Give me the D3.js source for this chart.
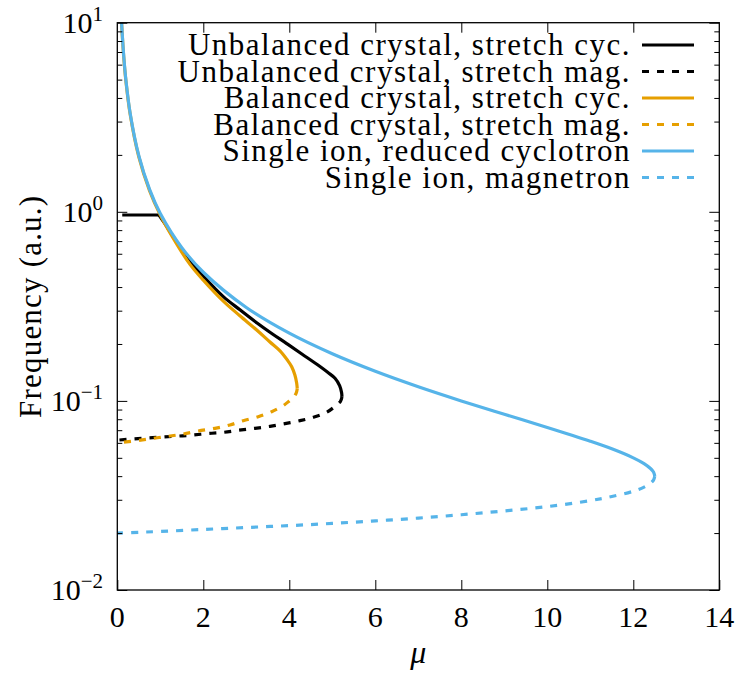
<!DOCTYPE html>
<html>
<head>
<meta charset="utf-8">
<script src="https://cdn.jsdelivr.net/npm/d3@7"></script>
<style>
  html, body { margin: 0; padding: 0; background: #fff; }
  svg { display: block; }
</style>
</head>
<body>
<svg id="chart" width="735" height="675"></svg>
<script>
// ---- data ----
const xTicks = [0, 2, 4, 6, 8, 10, 12, 14];
const yTickExp = [1, 0, -1, -2];

// Unbalanced crystal (flat start, then stretch cyclotron branch)
const unbFlatMu  = [0.115, 0.97];
const unbFlatVal = [0.962, 0.962];
const unbCycMu  = [0.97, 1.1, 1.3, 1.69, 2.0, 2.465, 2.853, 3.242, 3.6, 3.94, 4.3, 4.714, 4.9, 5.063, 5.17, 5.215, 5.225];
const unbCycVal = [0.962, 0.87, 0.74, 0.548, 0.456, 0.356, 0.303, 0.259, 0.2265, 0.201, 0.1766, 0.152, 0.1413, 0.1318, 0.1205, 0.111, 0.105];
const unbMagMu  = [5.225, 5.19, 5.10, 4.87, 4.558, 4.249, 3.9, 3.551, 3.2, 2.814, 2.465, 2.079, 1.69, 1.342, 0.953, 0.567, 0.0];
const unbMagVal = [0.105, 0.0995, 0.0951, 0.0871, 0.0819, 0.0786, 0.0758, 0.0734, 0.0716, 0.0699, 0.0682, 0.0671, 0.0658, 0.0650, 0.0642, 0.0634, 0.0620];

// Balanced crystal
const balCycMu  = [0.09, 0.1, 0.15, 0.2, 0.3, 0.5, 0.75, 1.0, 1.3, 1.69, 2.0, 2.465, 2.85, 3.242, 3.55, 3.784, 3.95, 4.056, 4.13, 4.172, 4.185];
const balCycVal = [10.9, 9.85, 6.56, 4.92, 3.27, 1.955, 1.295, 0.962, 0.725, 0.527, 0.435, 0.337, 0.282, 0.237, 0.205, 0.184, 0.165, 0.1517, 0.137, 0.124, 0.116];
const balMagMu  = [4.185, 4.16, 4.10, 4.0, 3.86, 3.59, 3.279, 2.93, 2.62, 2.272, 1.884, 1.535, 1.226, 0.837, 0.451, 0.0];
const balMagVal = [0.116, 0.110, 0.1045, 0.100, 0.0944, 0.0877, 0.0825, 0.0786, 0.0746, 0.0716, 0.0693, 0.0668, 0.0652, 0.0634, 0.0616, 0.0600];

// Single ion
const ionCycMu  = [0.09, 0.1, 0.15, 0.2, 0.3, 0.5, 0.75, 1, 1.5, 2, 3, 4, 5, 6, 7, 8, 9, 10, 11, 11.5, 12, 12.25, 12.4, 12.47, 12.5];
const ionCycVal = [11.09, 9.98, 6.647, 4.98, 3.313, 1.980, 1.313, 0.9796, 0.6460, 0.4791, 0.3120, 0.2281, 0.1775, 0.1434, 0.1188, 0.1000, 0.0850, 0.0724, 0.0612, 0.0558, 0.0500, 0.0466, 0.0439, 0.04206, 0.0400];
const ionMagMu  = [12.5, 12.47, 12.4, 12.25, 12, 11.5, 11, 10, 9, 8, 7, 6, 5, 4, 3, 2, 1, 0.5, 0];
const ionMagVal = [0.0400, 0.03813, 0.0367, 0.0350, 0.0333, 0.0312, 0.0297, 0.0276, 0.0262, 0.0250, 0.0240, 0.0232, 0.0225, 0.0219, 0.0214, 0.0209, 0.0204, 0.0202, 0.0200];

const seriesNames = [
  "Unbalanced crystal, stretch cyc.",
  "Unbalanced crystal, stretch mag.",
  "Balanced crystal, stretch cyc.",
  "Balanced crystal, stretch mag.",
  "Single ion, reduced cyclotron",
  "Single ion, magnetron"
];
const colors = ["#000000", "#000000", "#E69F00", "#E69F00", "#56B4E9", "#56B4E9"];
const dashed = [false, true, false, true, false, true];

// ---- layout ----
const FONT = "'Liberation Serif'";
const X0 = 117.3, X1 = 719.3, Y0 = 22.7, Y1 = 590;
const svg = d3.select("#chart");
const x = d3.scaleLinear().domain([0, 14]).range([X0, X1]);
const y = d3.scaleLog().domain([0.01, 10]).range([Y1, Y0]);

svg.append("defs").append("clipPath").attr("id", "clip")
  .append("rect").attr("x", X0).attr("y", Y0).attr("width", X1 - X0).attr("height", Y1 - Y0);

const toPts = (m, v) => m.map((mu, i) => [mu, v[i]]);
const seriesPaths = [
  [[toPts(unbFlatMu, unbFlatVal), "linear"], [toPts(unbCycMu, unbCycVal), "cr"]],
  [[toPts(unbMagMu, unbMagVal), "cr"]],
  [[toPts(balCycMu, balCycVal), "cr"]],
  [[toPts(balMagMu, balMagVal), "cr"]],
  [[toPts(ionCycMu, ionCycVal), "cr"]],
  [[toPts(ionMagMu, ionMagVal), "cr"]]
];

const lineCR = d3.line().x(d => x(d[0])).y(d => y(d[1])).curve(d3.curveCatmullRom.alpha(0.5));
const lineLin = d3.line().x(d => x(d[0])).y(d => y(d[1]));
const DASH = "7,8";
const LW = 3.2;

const plot = svg.append("g").attr("clip-path", "url(#clip)");
seriesPaths.forEach((parts, i) => {
  parts.forEach(([pts, kind]) => {
    plot.append("path").datum(pts)
      .attr("d", kind === "cr" ? lineCR : lineLin)
      .attr("fill", "none")
      .attr("stroke", colors[i])
      .attr("stroke-width", LW)
      .attr("stroke-linejoin", "round")
      .attr("stroke-dasharray", dashed[i] ? DASH : null);
  });
});

// ---- axes ----
const major = yTickExp.map(e => Math.pow(10, e));
const minor = [];
[-2, -1, 0].forEach(e => { for (let k = 2; k <= 9; k++) minor.push(k * Math.pow(10, e)); });

function styleAxis(g) {
  g.select(".domain").remove();
  g.selectAll(".tick line").attr("stroke", "#000").attr("stroke-width", 1);
}
svg.append("g").attr("transform", `translate(0,${Y1})`)
  .call(d3.axisBottom(x).tickValues(xTicks).tickSize(-10).tickFormat("")).call(styleAxis);
svg.append("g").attr("transform", `translate(0,${Y0})`)
  .call(d3.axisTop(x).tickValues(xTicks.slice(1, -1)).tickSize(-10).tickFormat("")).call(styleAxis);
svg.append("g").attr("transform", `translate(${X0},0)`)
  .call(d3.axisLeft(y).tickValues(major).tickSize(-10).tickFormat("")).call(styleAxis);
svg.append("g").attr("transform", `translate(${X0},0)`)
  .call(d3.axisLeft(y).tickValues(minor).tickSize(-5).tickFormat("")).call(styleAxis);
svg.append("g").attr("transform", `translate(${X1},0)`)
  .call(d3.axisRight(y).tickValues(major).tickSize(-10).tickFormat("")).call(styleAxis);
svg.append("g").attr("transform", `translate(${X1},0)`)
  .call(d3.axisRight(y).tickValues(minor).tickSize(-5).tickFormat("")).call(styleAxis);

// frame
svg.append("rect").attr("x", X0).attr("y", Y0).attr("width", X1 - X0).attr("height", Y1 - Y0)
  .attr("fill", "none").attr("stroke", "#000").attr("stroke-width", 1.3);

// x tick labels
svg.append("g").selectAll("text").data(xTicks).join("text")
  .style("font-family", FONT)
  .attr("x", d => x(d)).attr("y", Y1 + 37)
  .attr("text-anchor", "middle").attr("font-size", 30)
  .text(d => d);

// y tick labels with superscripts
const yl = svg.append("g");
yTickExp.forEach(e => {
  const t = yl.append("text").style("font-family", FONT)
    .attr("x", 103).attr("y", y(Math.pow(10, e)) + 10)
    .attr("text-anchor", "end").attr("font-size", 30);
  t.append("tspan").text("10");
  t.append("tspan").attr("font-size", 21).attr("dy", -12).text(e < 0 ? "\u2212" + (-e) : String(e));
});

// axis titles
svg.append("text").style("font-family", FONT).style("letter-spacing", "1.2px")
  .attr("transform", `translate(41,${(Y0 + Y1) / 2}) rotate(-90)`)
  .attr("text-anchor", "middle").attr("font-size", 31).text("Frequency (a.u.)");
svg.append("text").style("font-family", FONT)
  .attr("x", (X0 + X1) / 2).attr("y", 663)
  .attr("text-anchor", "middle").attr("font-size", 32).attr("font-style", "italic").text("\u03bc");

// legend
const leg = svg.append("g");
seriesNames.forEach((name, i) => {
  const cy = 45 + i * 26.5;
  leg.append("text").style("font-family", FONT).style("letter-spacing", "1.5px")
    .attr("x", 631).attr("y", cy + 10)
    .attr("text-anchor", "end").attr("font-size", 31).text(name);
  leg.append("line").attr("x1", 642).attr("x2", 694).attr("y1", cy).attr("y2", cy)
    .attr("stroke", colors[i]).attr("stroke-width", LW)
    .attr("stroke-dasharray", dashed[i] ? DASH : null);
});
</script>
</body>
</html>
